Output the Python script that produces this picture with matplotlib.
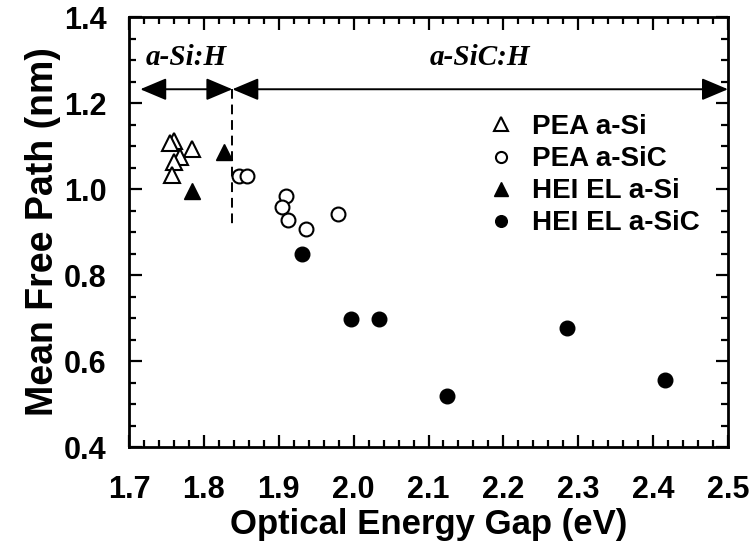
import numpy as np
import matplotlib.pyplot as plt
from matplotlib.ticker import MultipleLocator

plt.rcParams['font.family'] = ['Liberation Sans', 'DejaVu Sans']
plt.rcParams['font.weight'] = 'bold'

# PEA and HEI EL results for a-Si:H and a-SiC:H films
pea_si_gap = [1.760, 1.755, 1.784, 1.768, 1.760, 1.757]
pea_si_mfp = [1.112, 1.108, 1.092, 1.074, 1.063, 1.033]

pea_sic_gap = [1.847, 1.858, 1.910, 1.904, 1.913, 1.936, 1.979]
pea_sic_mfp = [1.030, 1.030, 0.984, 0.958, 0.928, 0.908, 0.943]

hei_si_gap = [1.827, 1.784]
hei_si_mfp = [1.087, 0.996]

hei_sic_gap = [1.931, 1.997, 2.034, 2.125, 2.285, 2.416]
hei_sic_mfp = [0.849, 0.698, 0.698, 0.518, 0.677, 0.556]

# boundary between the two film types and the range arrows
boundary = 1.838
arrow_y = 1.232
region_label_y = 1.306

fig = plt.figure(figsize=(7.55, 5.47), dpi=100)
ax = fig.add_axes([0.1709, 0.1828, 0.7933, 0.7861])

ax.plot(pea_si_gap, pea_si_mfp, '^', ms=12, mfc='white', mec='black', mew=1.5, ls='none', label='PEA a-Si')
ax.plot(pea_sic_gap, pea_sic_mfp, 'o', ms=10, mfc='white', mec='black', mew=1.5, ls='none', label='PEA a-SiC')
ax.plot(hei_si_gap, hei_si_mfp, '^', ms=12, color='black', ls='none', label='HEI EL a-Si')
ax.plot(hei_sic_gap, hei_sic_mfp, 'o', ms=10.5, color='black', ls='none', label='HEI EL a-SiC')

ax.plot([boundary, boundary], [arrow_y, 0.912], color='black', lw=1.4, ls=(0, (5, 3)))

arrow_props = dict(arrowstyle='<|-|>,head_length=0.9,head_width=0.38', color='black', lw=1.4,
                   shrinkA=0, shrinkB=0, mutation_scale=18)
ax.annotate('', xy=(1.715, arrow_y), xytext=(boundary, arrow_y), arrowprops=arrow_props)
ax.annotate('', xy=(boundary, arrow_y), xytext=(2.5, arrow_y), arrowprops=arrow_props)

ax.text(1.777, region_label_y, 'a-Si:H', family='Liberation Serif', style='italic', weight='bold',
        fontsize=21, ha='center', va='center')
ax.text(2.169, region_label_y, 'a-SiC:H', family='Liberation Serif', style='italic', weight='bold',
        fontsize=21, ha='center', va='center')

ax.set_xlim(1.7, 2.5)
ax.set_ylim(0.4, 1.4)
ax.xaxis.set_minor_locator(MultipleLocator(0.02))
ax.yaxis.set_minor_locator(MultipleLocator(0.05))
ax.set_xticks(np.arange(1.7, 2.51, 0.1))
ax.set_xticklabels(['1.7', '1.8', '1.9', '2.0', '2.1', '2.2', '2.3', '2.4', '2.5'])
ax.set_yticks(np.arange(0.4, 1.41, 0.2))
ax.set_yticklabels(['0.4', '0.6', '0.8', '1.0', '1.2', '1.4'])

ax.tick_params(which='both', direction='in', top=True, right=True, width=1.6)
ax.tick_params(which='major', length=9, labelsize=22)
ax.tick_params(axis='x', which='major', pad=20)
ax.tick_params(axis='y', which='major', pad=16)
ax.tick_params(which='minor', length=5)
for spine in ax.spines.values():
    spine.set_linewidth(2)

ax.set_xlabel('Optical Energy Gap (eV)', fontsize=25, fontweight='bold', labelpad=2)
ax.set_ylabel('Mean Free Path (nm)', fontsize=27, fontweight='bold', labelpad=2)

ax.legend(loc='upper left', bbox_to_anchor=(0.58, 0.80), frameon=False, fontsize=20,
          markerscale=0.8, handlelength=1.0, handletextpad=0.6, labelspacing=0.22,
          borderaxespad=0)

plt.savefig('out.png', dpi=100)
